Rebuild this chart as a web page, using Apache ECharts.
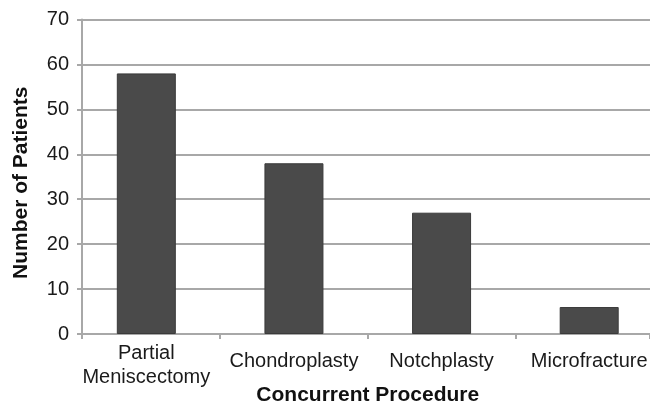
<!DOCTYPE html>
<html>
<head>
<meta charset="utf-8">
<script src="https://cdn.jsdelivr.net/npm/echarts@6/dist/echarts.min.js"></script>
<style>html,body{margin:0;padding:0;background:#fff;}#c{width:650px;height:402px;}</style>
</head>
<body>
<div id="c"></div>
<script>
const categories = ['Partial\nMeniscectomy', 'Chondroplasty', 'Notchplasty', 'Microfracture'];
const patients = [58, 38, 27, 6];
const yTicks = [0, 10, 20, 30, 40, 50, 60, 70];
const xTitle = 'Concurrent Procedure';
const yTitle = 'Number of Patients';

const font = 'Liberation Sans, Arial, sans-serif';
const chart = echarts.init(document.getElementById('c'), null, {renderer: 'canvas'});
chart.setOption({
  animation: false,
  backgroundColor: '#fff',
  grid: [
    {left: 82, right: 0, top: 19.5, bottom: 68, containLabel: false, outerBoundsMode: 'none'},
    {left: 72.5, right: -13, top: 19.5, bottom: 68, containLabel: false, outerBoundsMode: 'none'}
  ],
  xAxis: [
    {
      gridIndex: 0, type: 'value', min: 0, max: 1, interval: 1,
      axisLine: {show: true, lineStyle: {color: '#a8a8a8', width: 2}},
      axisTick: {show: true, length: 5, lineStyle: {color: '#a8a8a8', width: 2}},
      axisLabel: {show: false}, splitLine: {show: false}
    },
    {
      gridIndex: 1, type: 'category', data: categories,
      axisLine: {show: false},
      axisTick: {show: true, length: 5, interval: function (i) { return i !== 0; }, lineStyle: {color: '#a8a8a8', width: 2}},
      axisLabel: {
        color: '#1a1a1a', fontFamily: font, fontSize: 20, lineHeight: 24, margin: 27, verticalAlign: 'middle', interval: 0,
        formatter: function (v) { return v.indexOf('\n') >= 0 ? '{m|' + v.split('\n').join('}\n{m|') + '}' : v; },
        rich: {m: {fontFamily: font, fontSize: 20, lineHeight: 24, color: '#1a1a1a', padding: [8, 0, 0, 0]}}
      },
      name: xTitle, nameLocation: 'middle', nameGap: 51, nameMoveOverlap: false,
      nameTextStyle: {color: '#111', fontFamily: font, fontSize: 21, fontWeight: 'bold'}
    }
  ],
  yAxis: [
    {
      gridIndex: 0, type: 'value', min: yTicks[0], max: yTicks[yTicks.length - 1], interval: 10,
      axisLine: {show: true, lineStyle: {color: '#a8a8a8', width: 2}},
      axisTick: {show: true, length: 5, lineStyle: {color: '#a8a8a8', width: 2}},
      axisLabel: {color: '#1a1a1a', fontFamily: font, fontSize: 20, margin: 13},
      splitLine: {show: true, lineStyle: {color: '#a8a8a8', width: 2}},
      name: yTitle, nameLocation: 'middle', nameGap: 50, nameRotate: 90, nameMoveOverlap: false,
      nameTextStyle: {color: '#111', fontFamily: font, fontSize: 21, fontWeight: 'bold', padding: [0, 12, 0, 0]}
    },
    {
      gridIndex: 1, type: 'value', min: yTicks[0], max: yTicks[yTicks.length - 1], interval: 10,
      show: false
    }
  ],
  series: [{
    type: 'bar', xAxisIndex: 1, yAxisIndex: 1,
    data: patients, barWidth: 59,
    itemStyle: {color: '#4a4a4a', borderColor: '#3a3a3a', borderWidth: 1}
  }]
});
</script>
</body>
</html>
